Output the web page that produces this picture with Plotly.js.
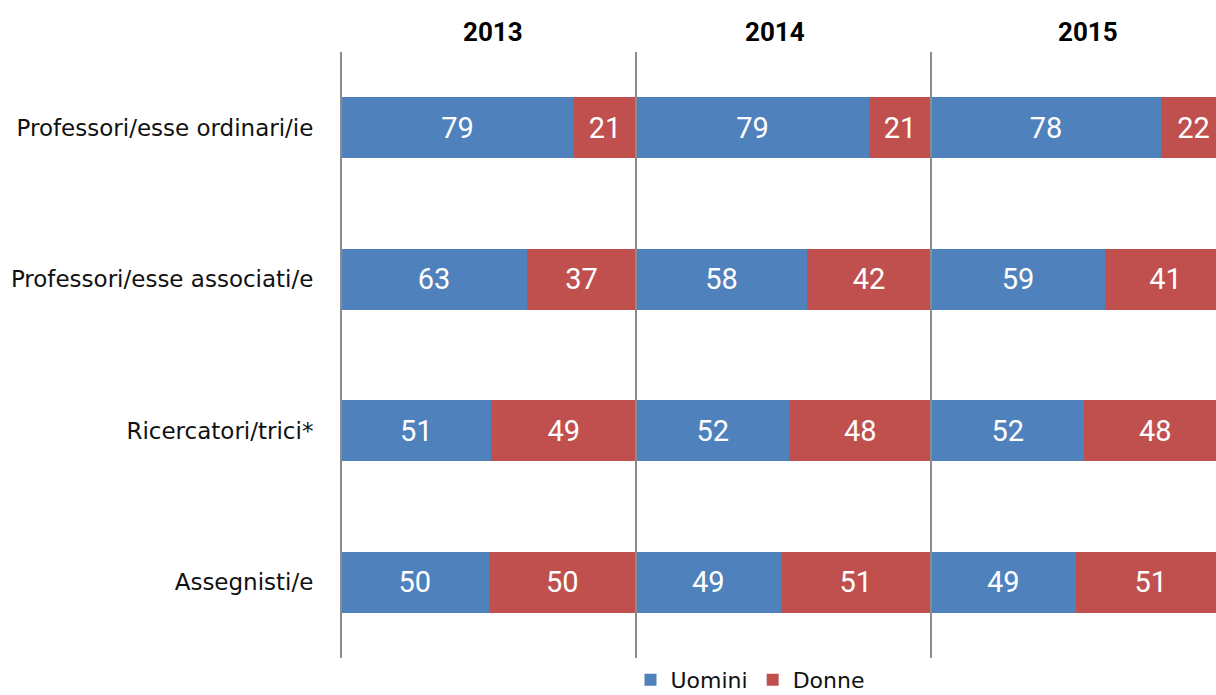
<!DOCTYPE html>
<html>
<head>
<meta charset="utf-8">
<script src="https://cdn.plot.ly/plotly-3.0.1.min.js"></script>
<style>html,body{margin:0;padding:0;background:#fff;}#chart{width:1216px;height:695px;}</style>
</head>
<body>
<div id="chart"></div>
<script>
const categories = ["Professori/esse ordinari/ie", "Professori/esse associati/e", "Ricercatori/trici*", "Assegnisti/e"];
const years = ["2013", "2014", "2015"];
const uomini2013 = [79, 63, 51, 50];
const donne2013  = [21, 37, 49, 50];
const uomini2014 = [79, 58, 52, 49];
const donne2014  = [21, 42, 48, 51];
const uomini2015 = [78, 59, 52, 49];
const donne2015  = [22, 41, 48, 51];

const uomini = [uomini2013, uomini2014, uomini2015];
const donne = [donne2013, donne2014, donne2015];
const blue = "#4F81BD", red = "#C0504D";
const FONT = "'DejaVu Sans', 'Open Sans', sans-serif";
const NUMFONT = "Roboto, 'Open Sans', sans-serif";

// pixel geometry: plot area from x=341 to 1216 (875px); each panel 295px, last one cut at the page edge
const PW = 875, panel = 295;
const d1 = panel / PW, d2 = 2 * panel / PW;

const traces = [];
years.forEach((yr, i) => {
  const xa = i === 0 ? "x" : "x" + (i + 1);
  traces.push({
    type: "bar", orientation: "h", x: uomini[i], y: categories, xaxis: xa, yaxis: "y",
    name: "Uomini", legendgroup: "u", showlegend: i === 0,
    marker: {color: blue}, width: 0.4,
    text: uomini[i].map(String), textposition: "inside", insidetextanchor: "middle",
    textfont: {color: "#fff", size: 29, family: NUMFONT}, constraintext: "none", hoverinfo: "skip"
  });
  traces.push({
    type: "bar", orientation: "h", x: donne[i], y: categories, xaxis: xa, yaxis: "y",
    name: "Donne", legendgroup: "d", showlegend: i === 0,
    marker: {color: red}, width: 0.4,
    text: donne[i].map(String), textposition: "inside", insidetextanchor: "middle",
    textfont: {color: "#fff", size: 29, family: NUMFONT}, constraintext: "none", hoverinfo: "skip"
  });
});

const xBase = {showgrid: false, zeroline: false, showticklabels: false, showline: false, fixedrange: true};
const titleX = [493, 775, 1088];
const layout = {
  width: 1216, height: 695,
  margin: {l: 341, r: 0, t: 52, b: 37, autoexpand: false},
  barmode: "stack",
  paper_bgcolor: "#fff", plot_bgcolor: "#fff",
  font: {family: FONT, color: "#000"},
  xaxis: Object.assign({domain: [0, d1], anchor: "y", range: [0, 100]}, xBase),
  xaxis2: Object.assign({domain: [d1, d2], anchor: "y", range: [0, 100]}, xBase),
  xaxis3: Object.assign({domain: [d2, 1], anchor: "y", range: [0, 100 * (PW - 2 * panel) / panel]}, xBase),
  yaxis: {
    type: "category", categoryorder: "array", categoryarray: categories,
    range: [3.5, -0.5], showgrid: false, zeroline: false, showline: false,
    ticks: "outside", ticklen: 22, tickcolor: "rgba(0,0,0,0)",
    tickfont: {size: 23, color: "#111", family: FONT}, fixedrange: true
  },
  shapes: [0, d1, d2].map(x => ({
    type: "line", xref: "paper", yref: "paper", x0: x, x1: x, y0: 0, y1: 1,
    line: {color: "#8c8c8c", width: 2}
  })),
  annotations: years.map((yr, i) => ({
    text: "<b>" + yr + "</b>", xref: "paper", yref: "paper",
    x: (titleX[i] - 341) / PW, y: 1 + (52 - 32) / 606, yanchor: "middle", xanchor: "center",
    showarrow: false, font: {size: 26, color: "#000", family: NUMFONT}
  })),
  legend: {
    orientation: "h", x: (750 - 341) / PW, xanchor: "center", y: -22 / 606, yanchor: "middle",
    font: {size: 22, color: "#111", family: FONT}, itemwidth: 30, traceorder: "normal"
  },
  showlegend: true
};

Plotly.newPlot("chart", traces, layout, {displayModeBar: false, staticPlot: true});
</script>
</body>
</html>
